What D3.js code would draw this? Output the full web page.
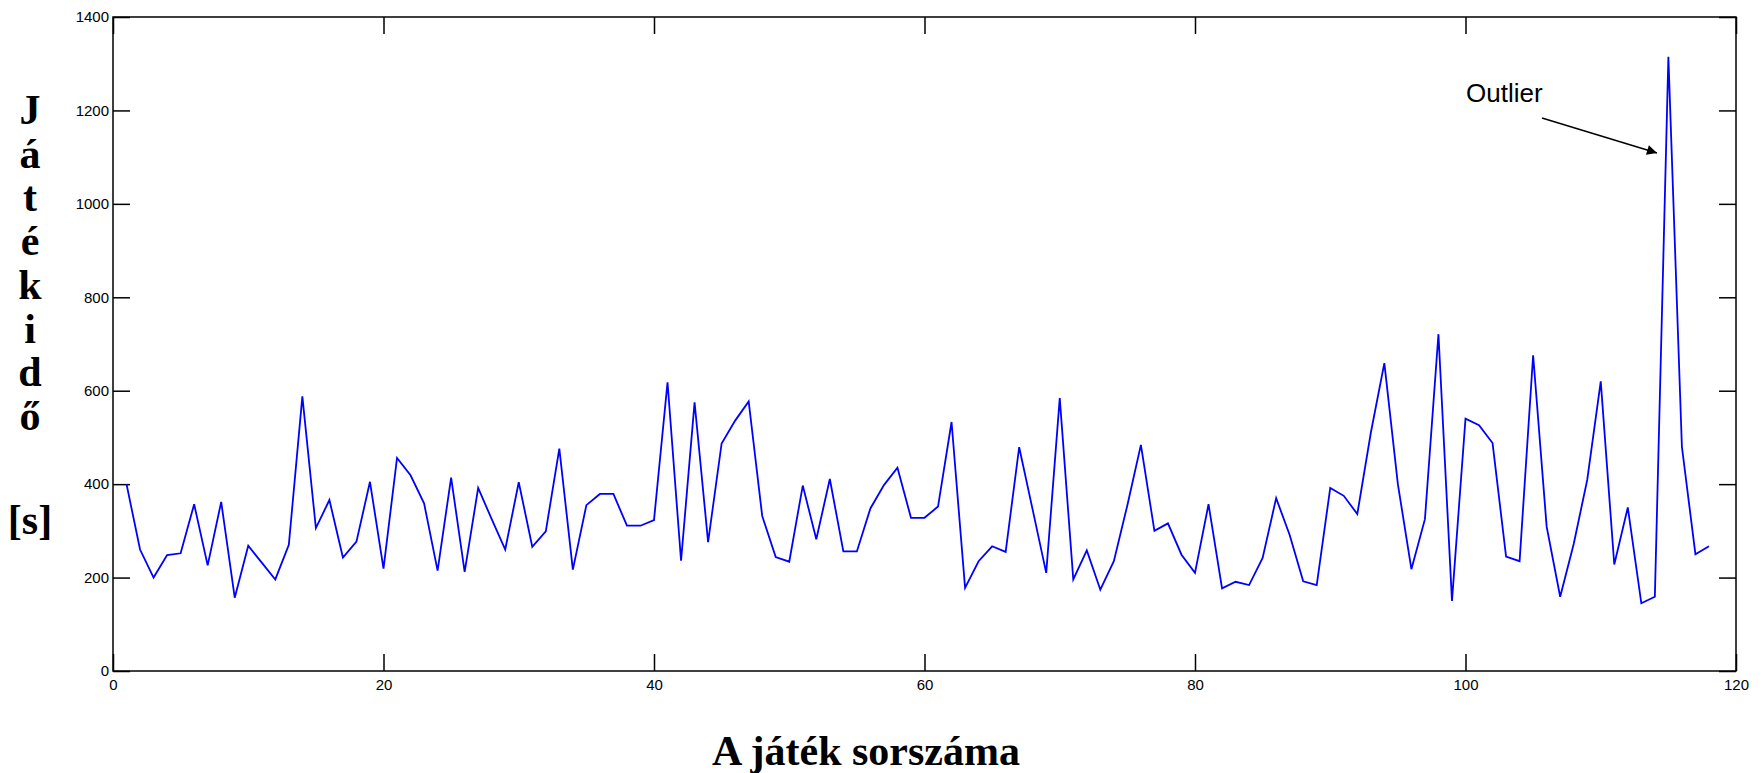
<!DOCTYPE html>
<html>
<head>
<meta charset="utf-8">
<script src="https://cdn.jsdelivr.net/npm/d3@7"></script>
<style>
  html, body { margin: 0; padding: 0; background: #fff; }
  svg { display: block; }
</style>
</head>
<body>
<svg id="chart" width="1763" height="773"></svg>
<script>
// ---- data ----
const gameIndex = d3.range(1, 119);
const playTime = [
  400, 260, 200, 248, 252, 357, 226, 362, 157, 268,
  232, 196, 270, 588, 306, 366, 243, 277, 405, 219,
  456, 419, 359, 215, 414, 212, 392, 325, 260, 404,
  266, 299, 476, 217, 355, 379, 379, 311, 311, 323,
  618, 236, 575, 276, 487, 536, 577, 332, 244, 234,
  397, 282, 411, 256, 256, 348, 398, 435, 328, 328,
  352, 533, 178, 235, 267, 255, 479, 345, 210, 584,
  196, 258, 174, 235, 355, 484, 300, 316, 249, 210,
  357, 177, 191, 184, 242, 370, 291, 192, 184, 392,
  375, 336, 510, 659, 400, 218, 325, 721, 150, 540,
  526, 488, 245, 235, 676, 309, 159, 272, 409, 620,
  228, 350, 145, 159, 1315, 480, 250, 267
];
const xTicks = [0, 20, 40, 60, 80, 100, 120];
const yTicks = [0, 200, 400, 600, 800, 1000, 1200, 1400];
const yLabelLetters = ["J", "á", "t", "é", "k", "i", "d", "ő"];
const yUnit = "[s]";
const xTitle = "A játék sorszáma";
const annotation = { text: "Outlier", index: 115 };

// ---- layout ----
const L = 113, R = 1736, T = 17, B = 671;
const svg = d3.select("#chart");
const x = d3.scaleLinear().domain([0, 120]).range([L, R]);
const y = d3.scaleLinear().domain([0, 1400]).range([B, T]);
const tickLen = 17;

function styleAxis(g) {
  g.select(".domain").remove();
  g.selectAll(".tick line").attr("stroke", "#000").attr("stroke-width", 1.5);
  g.selectAll(".tick text")
    .attr("font-family", "'Liberation Sans', Arial, sans-serif")
    .attr("font-size", 15)
    .attr("fill", "#000");
}

svg.append("g").attr("transform", `translate(0,${B})`)
  .call(d3.axisBottom(x).tickValues(xTicks).tickSize(-tickLen).tickPadding(8).tickFormat(d3.format("d")))
  .call(styleAxis);
svg.append("g").attr("transform", `translate(0,${T})`)
  .call(d3.axisTop(x).tickValues(xTicks).tickSize(-tickLen).tickFormat(""))
  .call(styleAxis);
svg.append("g").attr("transform", `translate(${L},0)`)
  .call(d3.axisLeft(y).tickValues(yTicks).tickSize(-tickLen).tickPadding(4).tickFormat(d3.format("d")))
  .call(styleAxis);
svg.append("g").attr("transform", `translate(${R},0)`)
  .call(d3.axisRight(y).tickValues(yTicks).tickSize(-tickLen).tickFormat(""))
  .call(styleAxis);

// frame
svg.append("rect")
  .attr("x", L).attr("y", T).attr("width", R - L).attr("height", B - T)
  .attr("fill", "none").attr("stroke", "#000").attr("stroke-width", 1.5);

// line
const line = d3.line().x((d, i) => x(gameIndex[i])).y(d => y(d));
svg.append("path").datum(playTime)
  .attr("d", line)
  .attr("fill", "none")
  .attr("stroke", "#0000ff")
  .attr("stroke-width", 1.8)
  .attr("stroke-linejoin", "miter");

// y label (stacked letters)
const yl = svg.append("g")
  .attr("font-family", "'Liberation Serif', 'Times New Roman', serif")
  .attr("font-weight", "bold")
  .attr("font-size", 42)
  .attr("fill", "#000")
  .attr("text-anchor", "middle");
yl.selectAll("text.letter").data(yLabelLetters).enter().append("text")
  .attr("class", "letter")
  .attr("x", 30)
  .attr("y", (d, i) => 124 + i * 43.7)
  .text(d => d);
yl.append("text").attr("x", 30).attr("y", 534).text(yUnit);

// x title
svg.append("text")
  .attr("x", 866).attr("y", 765)
  .attr("text-anchor", "middle")
  .attr("font-family", "'Liberation Serif', 'Times New Roman', serif")
  .attr("font-weight", "bold")
  .attr("font-size", 42)
  .attr("fill", "#000")
  .text(xTitle);

// annotation
svg.append("defs").append("marker")
  .attr("id", "arrow").attr("viewBox", "0 0 10 10")
  .attr("refX", 10).attr("refY", 5)
  .attr("markerWidth", 20).attr("markerHeight", 10)
  .attr("markerUnits", "userSpaceOnUse")
  .attr("orient", "auto")
  .append("path").attr("d", "M0,0 L10,5 L0,10 Z").attr("fill", "#000");

svg.append("text")
  .attr("x", 1466).attr("y", 102)
  .attr("font-family", "'Liberation Sans', Arial, sans-serif")
  .attr("font-size", 26)
  .attr("fill", "#000")
  .text(annotation.text);
svg.append("line")
  .attr("x1", 1542).attr("y1", 118)
  .attr("x2", 1657).attr("y2", 153)
  .attr("stroke", "#000").attr("stroke-width", 1.5)
  .attr("marker-end", "url(#arrow)");
</script>
</body>
</html>
